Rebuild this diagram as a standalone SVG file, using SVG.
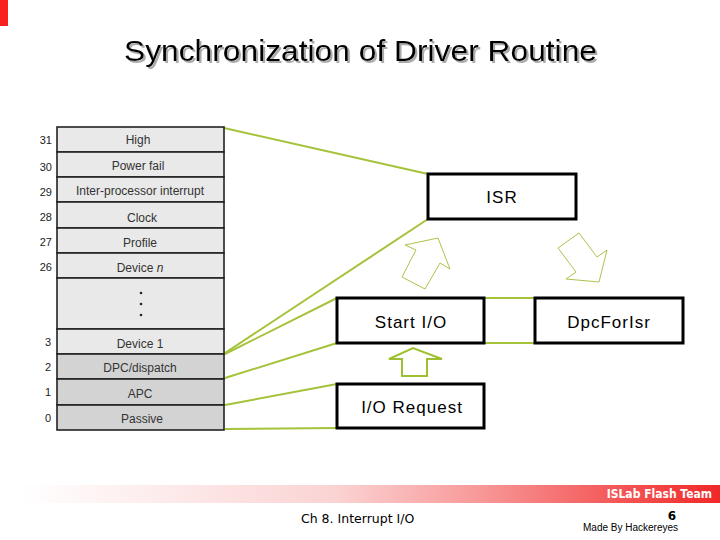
<svg xmlns="http://www.w3.org/2000/svg" width="720" height="540" viewBox="0 0 720 540">
<defs>
<linearGradient id="foot" x1="20" y1="0" x2="720" y2="0" gradientUnits="userSpaceOnUse">
<stop offset="0" stop-color="#ffffff"/>
<stop offset="0.45" stop-color="#fbd3d3"/>
<stop offset="0.65" stop-color="#f89a9a"/>
<stop offset="0.85" stop-color="#f45858"/>
<stop offset="1" stop-color="#f02828"/>
</linearGradient>
<filter id="sh" x="-5%" y="-30%" width="110%" height="160%">
<feDropShadow dx="2" dy="2" stdDeviation="0.4" flood-color="#aaa" flood-opacity="1"/>
</filter>
<style>
.row{stroke:#222;stroke-width:1.6}
.lt{fill:#e9e9e9}
.dk{fill:#d3d3d3}
.tt{font-family:"Liberation Sans",Arial,sans-serif;font-size:12px;fill:#333;text-anchor:middle}
.num{font-family:"Liberation Sans",Arial,sans-serif;font-size:11px;fill:#222;text-anchor:end}
.box{fill:#fff;stroke:#000;stroke-width:3}
.bt{font-family:"Liberation Sans",Arial,sans-serif;font-size:17px;letter-spacing:1px;fill:#000;text-anchor:middle}
.con{stroke:#a4c339;stroke-width:2;fill:none}
.arr{fill:#fff;stroke:#aec24a;stroke-width:1}
</style>
</defs>
<rect x="0" y="0" width="720" height="540" fill="#fff"/>
<rect x="0" y="0" width="8" height="26" fill="#f82020"/>
<text x="124" y="61" font-family="Liberation Sans,Arial,sans-serif" font-size="30" fill="#000" textLength="473" lengthAdjust="spacingAndGlyphs" filter="url(#sh)">Synchronization of Driver Routine</text>

<g id="connectors">
<line class="con" x1="224" y1="128" x2="428" y2="174"/>
<line class="con" x1="225" y1="353" x2="428" y2="219"/>
<line class="con" x1="225" y1="354" x2="337" y2="298"/>
<line class="con" x1="225" y1="378" x2="337" y2="343"/>
<line class="con" x1="225" y1="405" x2="337" y2="384"/>
<line class="con" x1="225" y1="429" x2="337" y2="428"/>
<line class="con" x1="484" y1="298" x2="535" y2="298"/>
<line class="con" x1="484" y1="343" x2="535" y2="343"/>
<polygon class="arr" points="405,245 438,238 450,269 440,263 425,289 402,277 416,250"/>
<polygon class="arr" points="558,248 579,233 597,257 607,250 599,282 566,279 576,272"/>
<polygon points="389,359 413,348 442,359 427,359 427,376 402,376 402,359" fill="#fff" stroke="#9ec030" stroke-width="2"/>
</g>

<g id="table">
<rect class="row lt" x="57" y="127" width="167" height="25"/>
<rect class="row lt" x="57" y="152" width="167" height="25"/>
<rect class="row lt" x="57" y="177" width="167" height="25"/>
<rect class="row lt" x="57" y="202" width="167" height="26"/>
<rect class="row lt" x="57" y="228" width="167" height="25"/>
<rect class="row lt" x="57" y="253" width="167" height="25"/>
<rect class="row lt" x="57" y="278" width="167" height="51"/>
<rect class="row lt" x="57" y="329" width="167" height="25"/>
<rect class="row dk" x="57" y="354" width="167" height="25"/>
<rect class="row dk" x="57" y="379" width="167" height="26"/>
<rect class="row dk" x="57" y="405" width="167" height="25"/>
<text class="tt" x="138" y="144">High</text>
<text class="tt" x="138" y="170">Power fail</text>
<text class="tt" x="140" y="195">Inter-processor interrupt</text>
<text class="tt" x="142" y="222">Clock</text>
<text class="tt" x="140" y="247">Profile</text>
<text class="tt" x="140" y="272">Device <tspan font-style="italic">n</tspan></text>
<circle cx="141" cy="293" r="1.3" fill="#222"/>
<circle cx="141" cy="304" r="1.3" fill="#222"/>
<circle cx="141" cy="315" r="1.3" fill="#222"/>
<text class="tt" x="140" y="348">Device 1</text>
<text class="tt" x="140" y="372">DPC/dispatch</text>
<text class="tt" x="140" y="398">APC</text>
<text class="tt" x="142" y="423">Passive</text>
<text class="num" x="52" y="144">31</text>
<text class="num" x="52" y="171">30</text>
<text class="num" x="52" y="196">29</text>
<text class="num" x="52" y="221">28</text>
<text class="num" x="52" y="246">27</text>
<text class="num" x="52" y="271">26</text>
<text class="num" x="51" y="346">3</text>
<text class="num" x="51" y="371">2</text>
<text class="num" x="51" y="396">1</text>
<text class="num" x="51" y="422">0</text>
</g>

<g id="isr">
<rect class="box" x="428" y="174" width="148" height="45"/>
<text class="bt" x="502" y="203">ISR</text>
</g>
<g id="startio">
<rect class="box" x="337" y="298" width="147" height="45"/>
<text class="bt" x="411" y="328">Start I/O</text>
</g>
<g id="dpcforisr">
<rect class="box" x="535" y="298" width="148" height="45"/>
<text class="bt" x="609" y="328">DpcForIsr</text>
</g>
<g id="iorequest">
<rect class="box" x="337" y="384" width="147" height="44"/>
<text class="bt" x="412" y="413">I/O Request</text>
</g>

<rect x="20" y="485" width="700" height="18" fill="url(#foot)"/>
<text x="712" y="498" font-family="DejaVu Sans Condensed,DejaVu Sans,sans-serif" font-weight="bold" font-size="12" fill="#fff" text-anchor="end">ISLab Flash Team</text>
<text x="301" y="523" font-family="DejaVu Sans,sans-serif" font-size="12.5" fill="#000">Ch 8. Interrupt I/O</text>
<text x="676" y="520" font-family="DejaVu Sans,sans-serif" font-weight="bold" font-size="12" fill="#000" text-anchor="end">6</text>
<text x="583" y="531" font-family="Liberation Sans,Arial,sans-serif" font-size="10" fill="#000">Made By Hackereyes</text>
</svg>
